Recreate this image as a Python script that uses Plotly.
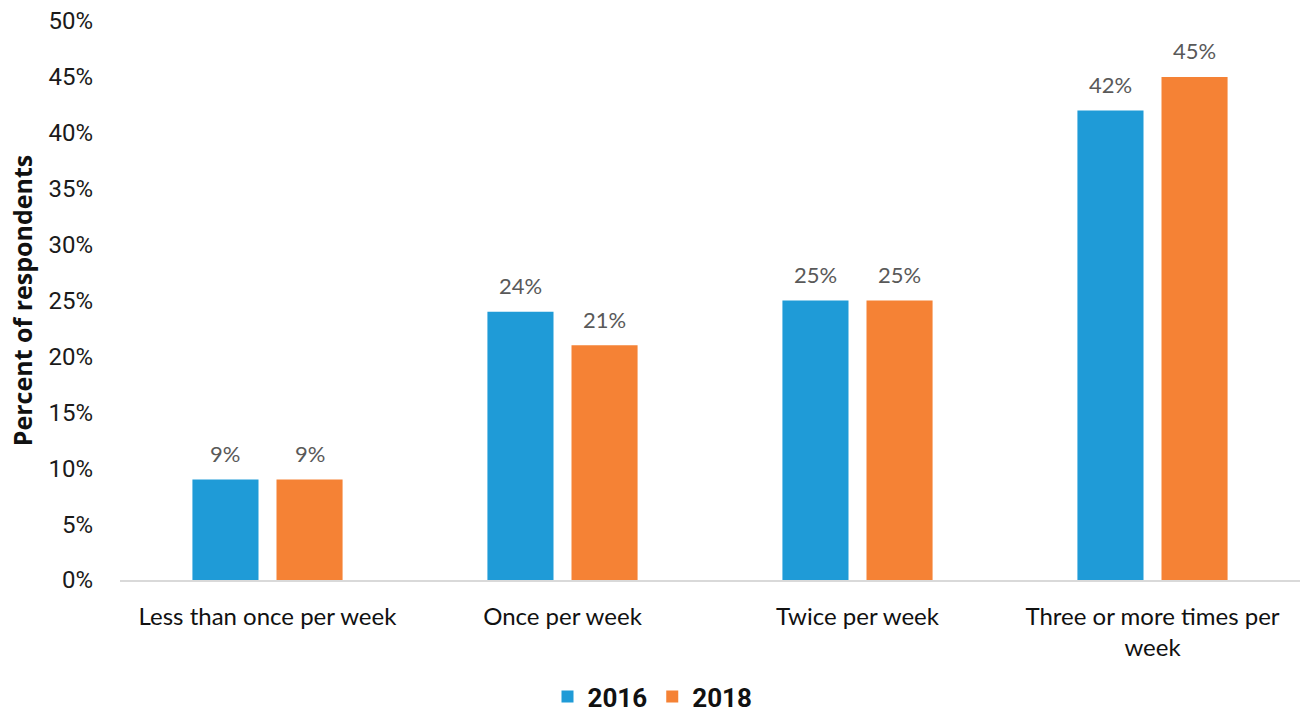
import plotly.graph_objects as go

categories = ["Less than once per week", "Once per week", "Twice per week",
              "Three or more times per<br>week"]
years = ["2016", "2018"]
values_2016 = [9, 24, 25, 42]
values_2018 = [9, 21, 25, 45]
colors = ["#1f9bd7", "#f58235"]
y_ticks = [0, 5, 10, 15, 20, 25, 30, 35, 40, 45, 50]

BARGAP = 0.43
GROUPGAP = 0.214

fig = go.Figure()
for name, vals, col in zip(years, [values_2016, values_2018], colors):
    fig.add_trace(go.Bar(
        x=categories, y=vals, name=name,
        marker=dict(color=col, line=dict(width=0)),
    ))

# value labels above each bar, offset to the bar's slot in the group
slot = (1 - BARGAP) / 2
for k, vals in enumerate([values_2016, values_2018]):
    off = (k - 0.5) * slot
    for i, v in enumerate(vals):
        fig.add_annotation(
            x=i + off, y=v, xref="x", yref="y",
            text=f"{v}%", showarrow=False, yanchor="middle", yshift=26,
            font=dict(family="Lato, 'Open Sans', sans-serif", size=22, color="#595959"),
        )

fig.update_layout(
    width=1305, height=720,
    margin=dict(l=120, r=5, t=21, b=140),
    paper_bgcolor="white", plot_bgcolor="white",
    barmode="group", bargap=BARGAP, bargroupgap=GROUPGAP,
    showlegend=True,
    legend=dict(
        orientation="h", xref="container", x=0.5, xanchor="center",
        yref="container", y=-0.006, yanchor="bottom",
        font=dict(family="Roboto, sans-serif", size=26, color="#111111", weight="bold"),
        itemwidth=30, traceorder="normal", tracegroupgap=0,
    ),
)

fig.update_xaxes(
    type="category", showgrid=False, showline=True, linecolor="#d9d9d9", linewidth=2,
    ticks="", ticklabelstandoff=14,
    tickfont=dict(family="Lato, sans-serif", size=24, color="#111111"),
)
fig.update_yaxes(
    range=[0, 50], tickvals=y_ticks, ticktext=[f"{t}%" for t in y_ticks],
    showgrid=False, zeroline=False, showline=False, ticks="",
    ticklabelstandoff=26,
    tickfont=dict(family="Roboto, sans-serif", size=24, color="#1a1a1a"),
    title=dict(text="<b>Percent of respondents</b>", standoff=8,
               font=dict(family="'Open Sans', sans-serif", size=25, color="#111111")),
)

fig.write_html("out.html")
